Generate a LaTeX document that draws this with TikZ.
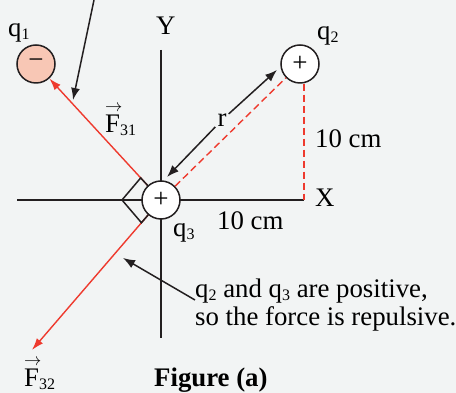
\documentclass[tikz,border=0pt]{standalone}
\usepackage{fontspec}
\setmainfont{Liberation Serif}
\usetikzlibrary{arrows.meta,positioning,calc}
\definecolor{bggray}{HTML}{F2F4F4}
\definecolor{dark}{HTML}{231F20}
\definecolor{fred}{HTML}{EE3A2E}
\definecolor{negfill}{HTML}{F8C7B5}
\tikzset{
  charge/.style={circle, draw=dark, line width=1.5pt, fill=white, minimum size=38pt, inner sep=0pt, font=\fontsize{27}{27}\selectfont},
  negcharge/.style={charge, fill=negfill},
  axis/.style={draw=dark, line width=1.5pt},
  force/.style={-{Latex[length=12pt,width=8pt]}, line width=1.4pt, draw=fred},
  pointer/.style={-{Latex[length=12pt,width=9pt]}, line width=1.5pt, draw=dark},
  guide/.style={draw=fred, line width=1.4pt, dash pattern=on 7pt off 4pt},
  lbl/.style={inner sep=0pt, font=\fontsize{26.8}{28}\selectfont}
}
\newcommand{\qsub}[1]{\raisebox{-3pt}{\fontsize{16}{16}\selectfont #1}}
\newcommand{\forcelbl}[1]{\rlap{\raisebox{21pt}{\fontsize{16}{16}\selectfont$\rightarrow$}}F\qsub{#1}}

\begin{document}
\begin{tikzpicture}[x=1pt, y=1pt]
  \fill[bggray] (0,0) rectangle (456,393);
  \useasboundingbox (0,0) rectangle (456,393);

  % axes
  \coordinate (ytop) at (161,343);
  \coordinate (ybot) at (161,55);
  \coordinate (xleft) at (17,193);
  \coordinate (xend) at (304,193);
  \draw[axis] (ytop) -- (ybot);
  \draw[axis] (xleft) -- (xend);
  \node[lbl, anchor=base west] (ylab) at (156,358) {Y};
  \node[lbl, anchor=base west] (xlab) at (315,186) {X};

  % charges
  \node[charge] (q3) at (161,193) {+};
  \node[negcharge] (q1) at (36,329) {−};
  \node[charge] (q2) at (300,329) {+};
  \node[lbl, anchor=base west] (q1lab) at (8,356) {q\qsub{1}};
  \node[lbl, anchor=base west] (q2lab) at (317,353) {q\qsub{2}};
  \node[lbl, anchor=base west] (q3lab) at (173,156) {q\qsub{3}};

  % distances
  \draw[guide] (q3) -- (q2);
  \draw[guide] (xend |- q2.south) -- (xend);
  \node[lbl, anchor=base west] (dy) at (315,245) {10 cm};
  \node[lbl, anchor=base west] (dx) at (217,163) {10 cm};
  \node[lbl, inner sep=2pt] (r) at (222,273) {r};
  \coordinate (rtop) at (277,323);
  \coordinate (rbot) at (167,216);
  \draw[pointer] (r) -- (rtop);
  \draw[pointer] (r) -- (rbot);

  % forces on q3
  \coordinate (f32end) at (32,43);
  \draw[force] (q3) -- (q1);
  \draw[force] (q3) -- (f32end);
  \node[lbl, anchor=base west] (f31lab) at (105,260) {\forcelbl{31}};
  \node[lbl, anchor=base west] (f32lab) at (24,6) {\forcelbl{32}};

  % right angle mark
  \draw[dark, line width=1.5pt] ($(q3)+(132.6:19)$) -- ($(q3)+(132.6:30)$) -- ($(q3)+(180:39)$) -- ($(q3)+(229.3:30)$) -- ($(q3)+(229.3:19)$);

  % pointers and note
  \coordinate (topend) at (94,393);
  \coordinate (toptip) at (73,293);
  \draw[pointer] (topend) -- (toptip);
  \node[lbl, anchor=west, align=left] (note) at (195,88) {q\qsub{2} and q\qsub{3} are positive,\\so the force is repulsive.};
  \coordinate (notetail) at (195,93);
  \coordinate (notetip) at (123,135);
  \draw[pointer] (notetail) -- (notetip);

  \node[lbl, anchor=base west, font=\fontsize{26.8}{28}\selectfont\bfseries] (fig) at (154,6) {Figure (a)};
\end{tikzpicture}
\end{document}
